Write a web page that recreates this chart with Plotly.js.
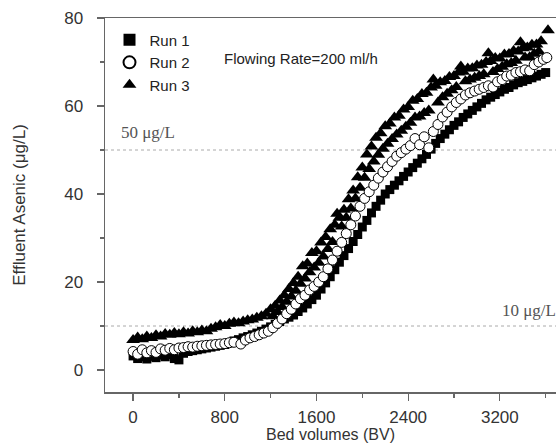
<!DOCTYPE html>
<html>
<head>
<meta charset="utf-8">
<script src="https://cdn.plot.ly/plotly-3.0.1.min.js"></script>
<style>html,body{margin:0;padding:0;background:#fff;}</style>
</head>
<body>
<div id="chart" style="width:556px;height:443px;"></div>
<script>
// Run 1 (squares)
const bv1 = [0,40,80,120,160,200,240,280,320,360,400,440,480,520,560,600,640,680,720,760,800,840,880,920,960,1000,1040,1080,1120,1160,1200,1240,1280,1320,1360,1400,1440,1480,1520,1560,1600,1640,1680,1720,1760,1800,1840,1880,1920,1960,2000,2040,2080,2120,2160,2200,2240,2280,2320,2360,2400,2440,2480,2520,2560,2600,2640,2680,2720,2760,2800,2840,2880,2920,2960,3000,3040,3080,3120,3160,3200,3240,3280,3320,3360,3400,3440,3480,3520,3560,3600];
const as1 = [3.2,2.6,3.0,2.5,3.1,2.8,3.4,3.0,3.5,2.6,2.3,3.8,4.2,4.4,4.6,4.8,5.0,5.2,5.4,5.6,5.8,6.2,6.6,6.9,7.3,7.6,8.0,8.4,8.8,9.3,9.8,10.4,11.0,11.6,12.0,12.5,13.3,14.1,15.0,16.0,17.0,18.4,19.8,21.2,22.8,24.5,26.0,27.6,29.2,30.8,32.5,34.0,35.7,37.2,38.6,40.0,41.0,42.0,43.0,44.0,45.0,46.0,47.0,48.0,49.0,50.2,51.5,52.6,53.6,54.6,55.6,56.4,57.4,58.2,59.0,59.8,60.6,61.4,62.0,62.6,63.2,63.8,64.2,64.8,65.3,65.6,66.0,66.4,66.8,67.2,67.6];

// Run 2 (open circles)
const bv2 = [0,40,80,120,160,200,240,280,320,360,400,440,480,520,560,600,640,680,720,760,800,840,880,940,980,1020,1060,1100,1140,1180,1220,1260,1300,1340,1380,1420,1460,1500,1540,1580,1620,1660,1700,1740,1780,1820,1860,1900,1940,1980,2020,2060,2100,2140,2180,2220,2260,2300,2340,2380,2420,2460,2500,2540,2580,2620,2660,2700,2740,2780,2820,2860,2900,2940,2980,3020,3060,3100,3140,3180,3220,3260,3300,3340,3380,3420,3460,3500,3540,3580,3610];
const as2 = [4.2,3.6,4.6,3.9,4.4,4.0,4.8,4.5,4.9,4.6,5.0,5.1,5.3,5.2,5.4,5.5,5.6,5.7,5.8,5.9,6.0,6.2,6.3,5.9,6.8,7.3,7.6,8.0,8.4,8.8,9.6,10.6,11.6,12.8,13.8,15.0,16.2,17.0,18.2,19.0,20.0,21.2,23.0,25.0,27.0,29.0,31.0,33.0,35.0,37.2,39.0,40.5,42.0,43.6,45.0,46.2,47.4,48.6,49.4,50.2,51.0,52.6,51.2,53.0,50.5,54.2,55.8,57.5,58.6,59.8,60.8,61.6,62.5,63.0,63.4,63.8,64.2,64.6,64.3,65.5,66.0,66.8,67.0,67.6,67.8,68.2,68.0,69.4,70.0,70.6,71.0];

// Run 3 (triangles), main readings
const bv3 = [0,40,80,120,160,200,240,280,320,360,400,440,480,520,560,600,640,680,720,760,800,840,880,920,960,1000,1040,1080,1120,1160,1200,1240,1280,1320,1360,1400,1440,1480,1520,1560,1600,1640,1680,1720,1760,1800,1840,1880,1920,1960,2000,2040,2080,2120,2160,2200,2240,2280,2320,2360,2400,2440,2480,2520,2560,2600,2640,2680,2720,2760,2800,2840,2880,2920,2960,3000,3040,3080,3120,3160,3200,3240,3280,3320,3360,3400,3440,3480,3520,3560,3620];
const as3 = [6.8,7.4,7.0,7.6,7.3,7.9,7.6,8.2,8.0,8.4,8.1,8.6,8.3,8.8,8.6,9.0,8.8,9.4,9.7,10.2,10.0,10.5,10.8,10.6,11.0,11.3,11.5,11.9,12.2,12.8,13.8,14.6,15.8,17.0,18.4,19.8,21.2,23.6,24.2,26.6,27.0,29.0,30.2,32.0,33.0,34.6,36.4,38.8,40.8,43.8,46.0,49.0,50.8,52.8,53.8,55.4,56.0,57.4,57.8,59.2,59.8,61.2,61.6,62.7,63.0,64.2,64.6,65.4,65.7,66.6,66.8,67.6,67.8,68.5,68.6,69.2,69.4,70.0,70.2,70.9,70.8,71.7,71.8,72.5,72.4,73.1,73.3,73.9,74.0,74.7,77.2];
// Run 3, additional readings filling the band
const bv3b = [1220,1260,1300,1340,1380,1420,1460,1500,1540,1580,1620,1660,1700,1740,1780,1820,1860,1900,1940,1980,2020,2060,2100,2140,2180,2220,2260,2300,2340,2380,2420,2460,2500,2540,2580,2620,2660,2700,2740,2780,2820,2860,2900,2940,2980,3020,3060,3100,3140,3180,3220,3260,3300,3340,3380,3420,3460,3500,3540];
const as3b = [12.2,13.2,14.3,15.5,16.7,18.0,19.6,20.8,22.2,23.3,24.4,25.8,27.5,29.1,35.5,32.6,34.6,36.7,39.0,41.4,43.7,45.7,47.4,48.9,50.3,51.4,52.5,53.5,54.4,55.3,56.2,57.4,57.6,58.4,59.0,66.0,60.8,62.0,62.8,63.6,64.3,69.0,65.6,66.0,66.4,66.8,67.2,72.0,67.7,68.4,68.9,69.5,69.8,70.3,74.5,71.0,71.1,71.9,72.4];

const xTicks = [0,800,1600,2400,3200];
const yTicks = [0,20,40,60,80];
const limits = [50,10];

const traces = [
  {x: bv1, y: as1, name: 'Run 1', mode: 'markers', type: 'scatter', legendrank: 1,
   marker: {symbol: 'square', size: 9, color: '#000'}},
  {x: bv3.concat(bv3b), y: as3.concat(as3b), name: 'Run 3', mode: 'markers', type: 'scatter', legendrank: 3,
   marker: {symbol: 'triangle-up', size: 12, color: '#000'}},
  {x: bv2, y: as2, name: 'Run 2', mode: 'markers', type: 'scatter', legendrank: 2,
   marker: {symbol: 'circle', size: 10, color: '#fff', line: {color: '#000', width: 1}}}
];

const layout = {
  width: 556, height: 443,
  margin: {l: 105, r: 0, t: 18, b: 51},
  paper_bgcolor: '#fff', plot_bgcolor: '#fff',
  font: {family: 'Arial, "Liberation Sans", sans-serif', color: '#333'},
  showlegend: true,
  legend: {x: 0.01, y: 0.985, xanchor: 'left', yanchor: 'top', bgcolor: 'rgba(0,0,0,0)',
           font: {size: 15, color: '#222'}, itemsizing: 'constant', tracegroupgap: 0},
  xaxis: {range: [-245, 3690], tickvals: xTicks, ticks: 'outside', ticklen: 7, tickwidth: 1.2,
          tickcolor: '#666', linecolor: '#666', linewidth: 1.5, showline: true, mirror: true,
          showgrid: false, zeroline: false, tickfont: {size: 17, color: '#333'},
          ticklabelstandoff: 2,
          minor: {dtick: 400, tick0: 0, ticks: 'outside', ticklen: 4, tickcolor: '#666', showgrid: false},
          title: {text: 'Bed volumes (BV)', font: {size: 16, color: '#333'}, standoff: 4}},
  yaxis: {range: [-5, 80], tickvals: yTicks, ticks: 'outside', ticklen: 7, tickwidth: 1.2,
          tickcolor: '#666', linecolor: '#666', linewidth: 1.5, showline: true, mirror: false,
          showgrid: false, zeroline: false, tickfont: {size: 17, color: '#333'},
          ticklabelstandoff: 10,
          minor: {dtick: 10, tick0: 0, ticks: 'outside', ticklen: 4, tickcolor: '#666', showgrid: false},
          title: {text: 'Effluent Asenic (μg/L)', font: {size: 17, color: '#333'}, standoff: 34}},
  shapes: limits.map(v => ({type: 'line', xref: 'paper', x0: 0, x1: 1, yref: 'y', y0: v, y1: v,
          line: {color: '#aaa', width: 1, dash: 'dot'}, layer: 'below'})),
  annotations: [
    {text: '50 μg/L', xref: 'x', yref: 'y', x: -125, y: 54, xanchor: 'left', yanchor: 'middle',
     showarrow: false, font: {family: '"Liberation Serif", "Times New Roman", serif', size: 17, color: '#555'}},
    {text: '10 μg/L', xref: 'paper', yref: 'y', x: 1.005, y: 13.6, xanchor: 'right', yanchor: 'middle',
     showarrow: false, font: {family: '"Liberation Serif", "Times New Roman", serif', size: 17, color: '#555'}},
    {text: 'Flowing Rate=200 ml/h', xref: 'x', yref: 'y', x: 775, y: 70.8, xanchor: 'left', yanchor: 'middle',
     showarrow: false, font: {size: 15, color: '#222'}}
  ]
};

Plotly.newPlot('chart', traces, layout, {displayModeBar: false, staticPlot: true});
</script>
</body>
</html>
